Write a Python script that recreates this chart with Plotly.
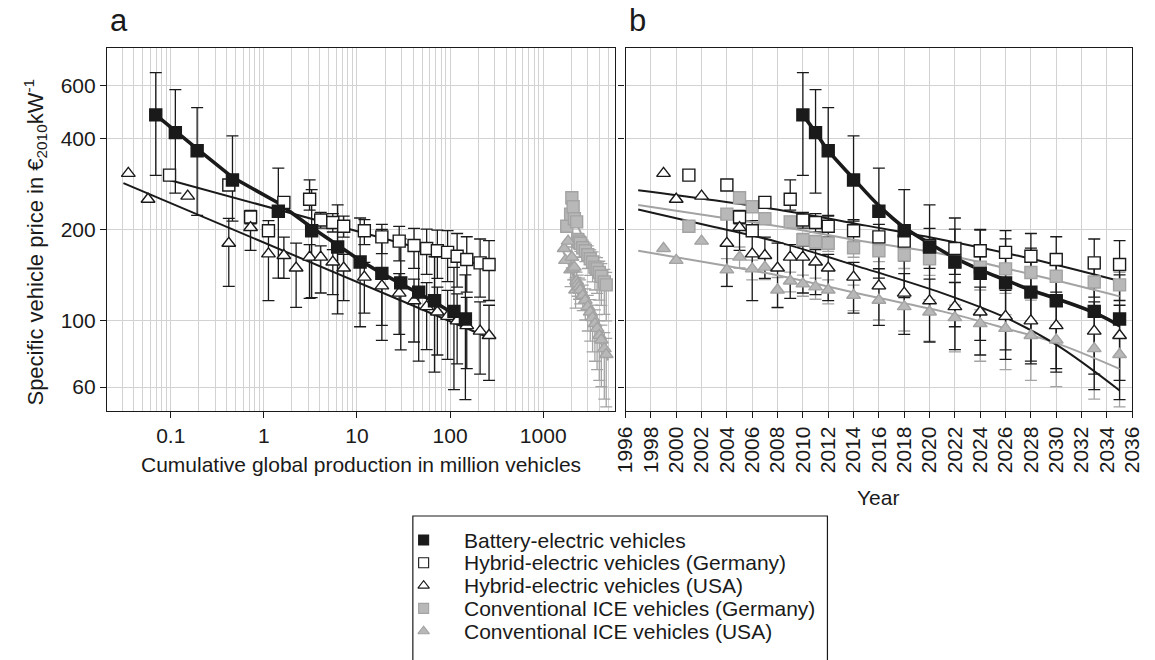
import numpy as np
import plotly.graph_objects as go

W, H = 1155, 660
FONT = "Liberation Sans"
INK = "#1a1a1a"
GREY_FILL = "#b8b8b8"
GREY_LINE = "#a3a3a3"
GRID = "#d2d2d2"

# ---------------- data ----------------
# Battery-electric vehicles
bev_years = [2010, 2011, 2012, 2014, 2016, 2018, 2020, 2022, 2024, 2026, 2028, 2030, 2033, 2035]
bev_cum = [0.069, 0.112, 0.192, 0.46, 1.43, 3.26, 6.2, 10.8, 18.5, 29.5, 46, 68, 110, 146]
bev_price = [480, 419, 365, 292, 230, 198, 175, 156, 143, 133, 124, 116, 107, 101]
bev_err_up_pct = [38, 39, 39, 40, 39, 37, 38, 40, 40, 40, 40, 40, 40, 40]
bev_err_dn_pct = [37, 37, 39, 27, 40, 40, 40, 39, 40, 40, 41, 42, 45, 46]
bev_fit_a = [480, 424, 370, 298, 245, 203, 177, 158, 143, 132, 123, 115, 105, 97]
bev_fit_b = [480, 420, 365, 295, 240, 203, 180, 161, 147, 136, 126, 118, 106, 96]

# Hybrid-electric and conventional vehicles share one year grid
hev_years = [1999, 2000, 2001, 2002, 2004, 2005, 2006, 2007, 2008, 2009, 2010, 2011,
             2012, 2014, 2016, 2018, 2020, 2022, 2024, 2026, 2028, 2030, 2033, 2035]
hev_cum = [0.035, 0.057, 0.097, 0.152, 0.42, 0.72, 1.12, 1.64, 2.22, 3.1, 4.08, 5.5,
           7.2, 12.0, 18.5, 28.4, 41, 56, 73, 94, 119, 151, 210, 262]
ice_cum = [1680, 1735, 1790, 1850, 1970, 2030, 2095, 2160, 2225, 2285, 2350, 2420,
           2500, 2660, 2830, 3010, 3200, 3390, 3590, 3790, 4000, 4210, 4530, 4750]

hev_de_price = [None, None, 303, None, 281, 220, 198, 246, None, 252, 215, 211,
                205, 198, 189, 183, 177, 173, 170, 168, 163, 159, 155, 153]
hev_de_err_up_pct = [None, None, None, None, None, 5, None, None, None, 16, 6, 7,
                     8, 9, 10, 12, 14, 16, 17, 18, 19, 19, 20, 20]
hev_de_err_dn_pct = [None, None, None, None, None, 5, None, None, None, 8, 6, 7,
                     8, 10, 12, 14, 16, 18, 19, 20, 21, 22, 23, 24]

hev_us_price = [307, 252, None, 258, 180, 203, 166, 164, 149, 162, 162, 156,
                149, 139, 130, 123, 116, 111, 106.5, 103, 99.5, 96, 92, 89]
hev_us_err_up_pct = [None, None, None, None, 21, 14, 29, 15, 21, 10, 9, 10,
                     11, 12, 14, 16, 18, 20, 21, 22, 23, 24, 25, 26]
hev_us_err_dn_pct = [None, None, None, None, 28, 16, 30, 16, 26, 27, 24, 22,
                     22, 24, 26, 27, 27, 28, 28, 28, 28, 28, 28, 29]

ice_de_price = [None, None, 205, None, 225, 255, 238, 217, None, 212, 185, 182,
                180, 174, 170, 165, 160, 156, 150, 148, 144, 140, 134, 131]
ice_de_err_up_pct = [None, None, None, None, None, None, None, None, None, None, 5, 5,
                     5, 6, 6, 7, 7, 8, 8, 9, 9, 10, 10, 10]
ice_de_err_dn_pct = [None, None, None, None, None, None, None, None, None, None, 5, 5,
                     6, 7, 8, 10, 12, 14, 16, 17, 19, 20, 22, 24]

ice_us_price = [173, 158, None, 183, 147, 162, 148, 150, 126, 135, 132, 129,
                126, 121, 116.5, 111, 106.5, 102, 97.5, 94, 89, 86, 80.5, 77]
ice_us_err_up_pct = [None, None, None, None, 9, 8, 7, 8, 10, 7, 7, 7,
                     8, 8, 9, 9, 10, 10, 11, 11, 12, 12, 13, 13]
ice_us_err_dn_pct = [None, None, None, None, 12, 8, 8, 9, 13, 8, 9, 9,
                     10, 11, 14, 17, 20, 23, 25, 27, 29, 30, 32, 33]

# Experience-curve fits in panel a (straight lines in log-log space)
hev_de_line_a = {"cum": [0.088, 262], "price": [294, 150]}
hev_us_line_a = {"cum": [0.031, 250], "price": [285, 88]}
ice_de_line_a = {"cum": [1780, 4600], "price": [247, 131]}
ice_us_line_a = {"cum": [1620, 4980], "price": [171, 73.6]}

# Price trends over time in panel b
hev_de_trend_years = [1997, 2003, 2009, 2015, 2021, 2028, 2035]
hev_de_trend = [270, 250, 229, 206, 185, 160, 135]
ice_de_trend_years = [1997, 2003, 2009, 2015, 2021, 2028, 2035]
ice_de_trend = [241, 221, 202, 182, 166, 142, 120]
hev_us_trend_years = [1997, 2003, 2008, 2015, 2021, 2026, 2030, 2035]
hev_us_trend = [233, 204, 182, 148, 123, 102, 83, 58.5]
ice_us_trend_years = [1997, 2003, 2008, 2015, 2021, 2026, 2030, 2035]
ice_us_trend = [170, 154, 141, 121, 107, 94, 84, 69]

y_ticks = [60, 100, 200, 400, 600]
x_ticks_a = [0.1, 1, 10, 100, 1000]
x_ticks_a_text = ["0.1", "1", "10", "100", "1000"]
x_ticks_b = list(range(1996, 2037, 2))

legend_labels = ["Battery-electric vehicles",
                 "Hybrid-electric vehicles (Germany)",
                 "Hybrid-electric vehicles (USA)",
                 "Conventional ICE vehicles (Germany)",
                 "Conventional ICE vehicles (USA)"]

# ---------------- styles ----------------
STYLES = {
    "bev": dict(symbol="square", color=INK, line=INK, bar=INK),
    "hev_de": dict(symbol="square", color="white", line=INK, bar=INK),
    "hev_us": dict(symbol="triangle-up", color="white", line=INK, bar=INK),
    "ice_de": dict(symbol="square", color=GREY_FILL, line=GREY_LINE, bar=GREY_LINE),
    "ice_us": dict(symbol="triangle-up", color=GREY_FILL, line=GREY_LINE, bar=GREY_LINE),
}


def px_x(p):
    return p / W


def px_y(p):
    return 1 - p / H


fig = go.Figure()


def add_errors(x, y, up, dn, key, xa, ya):
    xs, ys, ep, em = [], [], [], []
    for xi, yi, u, d in zip(x, y, up, dn):
        if yi is None or u is None:
            continue
        xs.append(xi)
        ys.append(yi)
        ep.append(yi * u / 100.0)
        em.append(yi * d / 100.0)
    fig.add_trace(go.Scatter(
        x=xs, y=ys, mode="markers", xaxis=xa, yaxis=ya,
        marker=dict(size=2, opacity=0), showlegend=False, hoverinfo="skip",
        error_y=dict(type="data", symmetric=False, array=ep, arrayminus=em,
                     color=STYLES[key]["bar"], thickness=1.3, width=6)))


def add_markers(x, y, key, xa, ya):
    s = STYLES[key]
    fig.add_trace(go.Scatter(
        x=x, y=y, mode="markers", xaxis=xa, yaxis=ya, showlegend=False,
        marker=dict(symbol=s["symbol"], size=12, color=s["color"],
                    line=dict(color=s["line"], width=1.4))))


def add_line(x, y, color, width, xa, ya, shape="linear"):
    fig.add_trace(go.Scatter(
        x=x, y=y, mode="lines", xaxis=xa, yaxis=ya, showlegend=False,
        hoverinfo="skip", line=dict(color=color, width=width, shape=shape)))


series = [
    ("ice_de", ice_de_price, ice_de_err_up_pct, ice_de_err_dn_pct, ice_cum, hev_years),
    ("ice_us", ice_us_price, ice_us_err_up_pct, ice_us_err_dn_pct, ice_cum, hev_years),
    ("hev_de", hev_de_price, hev_de_err_up_pct, hev_de_err_dn_pct, hev_cum, hev_years),
    ("hev_us", hev_us_price, hev_us_err_up_pct, hev_us_err_dn_pct, hev_cum, hev_years),
    ("bev", bev_price, bev_err_up_pct, bev_err_dn_pct, bev_cum, bev_years),
]

# error bars underneath everything else
for key, price, up, dn, cum, yrs in series:
    add_errors(cum, price, up, dn, key, "x", "y")
    add_errors(yrs, price, up, dn, key, "x2", "y2")

# panel a: experience curves
add_line(ice_de_line_a["cum"], ice_de_line_a["price"], GREY_LINE, 2, "x", "y")
add_line(ice_us_line_a["cum"], ice_us_line_a["price"], GREY_LINE, 2, "x", "y")
add_line(hev_de_line_a["cum"], hev_de_line_a["price"], INK, 2, "x", "y")
add_line(hev_us_line_a["cum"], hev_us_line_a["price"], INK, 2, "x", "y")
add_line(bev_cum, bev_fit_a, INK, 3.6, "x", "y")

# panel b: trends over time
add_line(ice_de_trend_years, ice_de_trend, GREY_LINE, 2, "x2", "y2", "spline")
add_line(ice_us_trend_years, ice_us_trend, GREY_LINE, 2, "x2", "y2", "spline")
add_line(hev_de_trend_years, hev_de_trend, INK, 2, "x2", "y2", "spline")
add_line(hev_us_trend_years, hev_us_trend, INK, 2, "x2", "y2", "spline")
add_line(bev_years, bev_fit_b, INK, 3.6, "x2", "y2", "spline")

for key, price, up, dn, cum, yrs in series:
    add_markers(cum, price, key, "x", "y")
    add_markers(yrs, price, key, "x2", "y2")

# ---------------- legend (drawn in a pixel-space area below the panels) ----------------
LEG_X0, LEG_X1, LEG_Y0, LEG_Y1 = 400, 860, 505, 660
legend_keys = ["bev", "hev_de", "hev_us", "ice_de", "ice_us"]
row0, row_step = 540, 22.8
for i, key in enumerate(legend_keys):
    s = STYLES[key]
    fig.add_trace(go.Scatter(
        x=[420], y=[row0 + i * row_step], mode="markers", xaxis="x3", yaxis="y3",
        showlegend=False, hoverinfo="skip", cliponaxis=False,
        marker=dict(symbol=s["symbol"], size=10, color=s["color"],
                    line=dict(color=s["line"], width=1.1))))

annotations = []
for i, lab in enumerate(legend_labels):
    annotations.append(dict(
        text=lab, x=px_x(459), y=px_y(row0 + i * row_step), xref="paper", yref="paper",
        xanchor="left", yanchor="middle", showarrow=False,
        font=dict(family=FONT, size=21, color=INK)))

shapes = [dict(type="rect", xref="paper", yref="paper",
               x0=px_x(409), x1=px_x(832), y0=px_y(516), y1=px_y(672),
               line=dict(color=INK, width=1.2), fillcolor="rgba(0,0,0,0)")]

# panel letters and axis titles
annotations += [
    dict(text="a", x=px_x(98), y=px_y(40), xanchor="left", yanchor="bottom"),
    dict(text="b", x=px_x(627), y=px_y(40), xanchor="left", yanchor="bottom"),
]
for a in annotations[-2:]:
    a.update(xref="paper", yref="paper", showarrow=False,
             font=dict(family=FONT, size=31, color=INK))

annotations += [
    dict(text="Cumulative global production in million vehicles",
         x=px_x(356), y=px_y(464), xref="paper", yref="paper",
         xanchor="center", yanchor="middle", showarrow=False,
         font=dict(family=FONT, size=21, color=INK)),
    dict(text="Year", x=px_x(884), y=px_y(497), xref="paper", yref="paper",
         xanchor="center", yanchor="middle", showarrow=False,
         font=dict(family=FONT, size=21, color=INK)),
    dict(text="Specific vehicle price in €<sub>2010</sub>kW<sup>-1</sup>",
         x=px_x(23), y=px_y(242), xref="paper", yref="paper", textangle=-90,
         xanchor="center", yanchor="middle", showarrow=False,
         font=dict(family=FONT, size=22, color=INK)),
]

# ---------------- axes ----------------
tick_font = dict(family=FONT, size=21, color=INK)
y_dom = [px_y(411), px_y(48)]
y_range = [np.log10(50), np.log10(800)]

minor_a = [m * 10.0 ** e for e in range(-2, 4) for m in range(2, 10)]

common_y = dict(type="log", range=y_range, domain=y_dom, tickvals=y_ticks,
                showgrid=True, gridcolor=GRID, gridwidth=1, zeroline=False,
                showline=True, linecolor=INK, linewidth=1.3, mirror=True,
                ticks="outside", ticklen=6, tickwidth=1.2, tickcolor=INK,
                tickfont=tick_font)

fig.update_layout(
    width=W, height=H, margin=dict(l=0, r=0, t=0, b=0),
    paper_bgcolor="white", plot_bgcolor="rgba(0,0,0,0)",
    showlegend=False,
    xaxis=dict(type="log", range=[np.log10(0.0207), np.log10(5866)],
               domain=[px_x(97), px_x(615)], anchor="y",
               tickvals=x_ticks_a, ticktext=x_ticks_a_text,
               showgrid=True, gridcolor=GRID, gridwidth=1, zeroline=False,
               minor=dict(tickmode="array", tickvals=minor_a, showgrid=True,
                          gridcolor=GRID, gridwidth=1, ticks=""),
               showline=True, linecolor=INK, linewidth=1.3, mirror=True,
               ticks="outside", ticklen=6, tickwidth=1.2, tickcolor=INK,
               tickfont=tick_font),
    yaxis=dict(anchor="x", **common_y),
    xaxis2=dict(range=[1996, 2036], domain=[px_x(626), px_x(1143)], anchor="y2",
                tickvals=x_ticks_b, tickangle=-90,
                showgrid=True, gridcolor=GRID, gridwidth=1, zeroline=False,
                showline=True, linecolor=INK, linewidth=1.3, mirror=True,
                ticks="outside", ticklen=6, tickwidth=1.2, tickcolor=INK,
                tickfont=tick_font),
    yaxis2=dict(anchor="x2", showticklabels=False, **common_y),
    xaxis3=dict(domain=[px_x(LEG_X0), px_x(LEG_X1)], range=[LEG_X0, LEG_X1],
                anchor="y3", visible=False, fixedrange=True),
    yaxis3=dict(domain=[px_y(LEG_Y1), px_y(LEG_Y0)], range=[LEG_Y1, LEG_Y0],
                anchor="x3", visible=False, fixedrange=True),
    annotations=annotations,
    shapes=shapes,
)

fig.write_html("out.html")
